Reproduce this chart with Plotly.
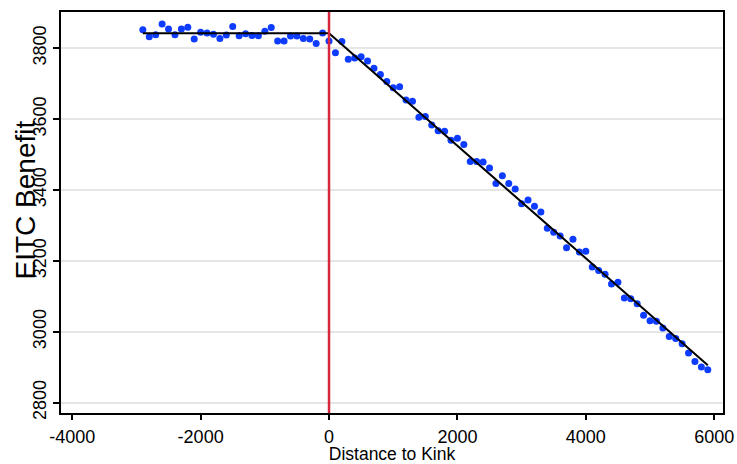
import plotly.graph_objects as go

# Binned data: distance to kink (bin centres) and mean EITC benefit
bin_x = [-2900, -2800, -2700, -2600, -2500, -2400, -2300, -2200, -2100, -2000,
         -1900, -1800, -1700, -1600, -1500, -1400, -1300, -1200, -1100, -1000,
         -900, -800, -700, -600, -500, -400, -300, -200, -100, 0,
         100, 200, 300, 400, 500, 600, 700, 800, 900, 1000,
         1100, 1200, 1300, 1400, 1500, 1600, 1700, 1800, 1900, 2000,
         2100, 2200, 2300, 2400, 2500, 2600, 2700, 2800, 2900, 3000,
         3100, 3200, 3300, 3400, 3500, 3600, 3700, 3800, 3900, 4000,
         4100, 4200, 4300, 4400, 4500, 4600, 4700, 4800, 4900, 5000,
         5100, 5200, 5300, 5400, 5500, 5600, 5700, 5800, 5900]
benefit = [3852, 3832, 3838, 3868, 3854, 3838, 3854, 3859, 3826, 3845,
           3843, 3839, 3827, 3837, 3861, 3835, 3841, 3836, 3835, 3848,
           3858, 3820, 3820, 3834, 3834, 3827, 3826, 3813, 3843, 3820,
           3787, 3819, 3769, 3772, 3776, 3764, 3743, 3726, 3706, 3688,
           3691, 3654, 3650, 3605, 3607, 3583, 3567, 3566, 3540, 3546,
           3528, 3480, 3480, 3479, 3462, 3418, 3440, 3418, 3403, 3361,
           3372, 3354, 3338, 3292, 3281, 3270, 3237, 3261, 3225, 3227,
           3183, 3173, 3162, 3135, 3140, 3095, 3093, 3079, 3047, 3031,
           3030, 3011, 2987, 2981, 2966, 2940, 2916, 2901, 2893]

# Fitted piecewise-linear line
fit_x = [-2900, 0, 5900]
fit_y = [3842, 3842, 2906]

kink_x = 0
x_ticks = [-4000, -2000, 0, 2000, 4000, 6000]
y_ticks = [2800, 3000, 3200, 3400, 3600, 3800]

FONT = "Liberation Sans, Arial, sans-serif"
TICK_SIZE = 18

fig = go.Figure()
fig.add_trace(go.Scatter(
    x=bin_x, y=benefit, mode="markers",
    marker=dict(color="#0d3cff", size=7, line=dict(width=0)),
    showlegend=False, hoverinfo="x+y"))
fig.add_trace(go.Scatter(
    x=fit_x, y=fit_y, mode="lines",
    line=dict(color="black", width=2),
    showlegend=False, hoverinfo="skip"))

fig.add_shape(type="line", xref="x", yref="paper", x0=kink_x, x1=kink_x,
              y0=0, y1=1, line=dict(color="#d8263f", width=2.5), layer="above")

fig.add_annotation(text="EITC Benefit", textangle=-90, xref="paper", yref="paper",
                   x=0, y=0.53, xanchor="center", yanchor="middle", xshift=-36,
                   showarrow=False, font=dict(family=FONT, size=28, color="black"))

fig.update_layout(
    width=737, height=464,
    margin=dict(l=61, r=14, t=12, b=51),
    paper_bgcolor="white", plot_bgcolor="white",
    font=dict(family=FONT, size=18, color="black"),
    xaxis=dict(
        range=[-4175, 6137], tickmode="array", tickvals=x_ticks,
        ticktext=[str(v) for v in x_ticks], automargin=False,
        tickfont=dict(family=FONT, size=TICK_SIZE, color="black"),
        showgrid=False, zeroline=False,
        showline=True, linecolor="black", linewidth=2, mirror=True,
        ticks="outside", ticklen=5, tickcolor="black", tickwidth=1.5,
        ticklabelstandoff=1,
        title=dict(text="Distance to Kink", font=dict(family=FONT, size=17.5), standoff=6),
    ),
    yaxis=dict(
        range=[2771, 3902], tickmode="array", tickvals=y_ticks,
        ticktext=[str(v) for v in y_ticks], tickangle=-90, automargin=True,
        tickfont=dict(family=FONT, size=TICK_SIZE, color="black"),
        showgrid=True, gridcolor="#e6e6e6", gridwidth=2, zeroline=False,
        showline=True, linecolor="black", linewidth=2, mirror=True,
        ticks="outside", ticklen=6, tickcolor="black", tickwidth=1.5,
    ),
)

fig.write_html("out.html")
